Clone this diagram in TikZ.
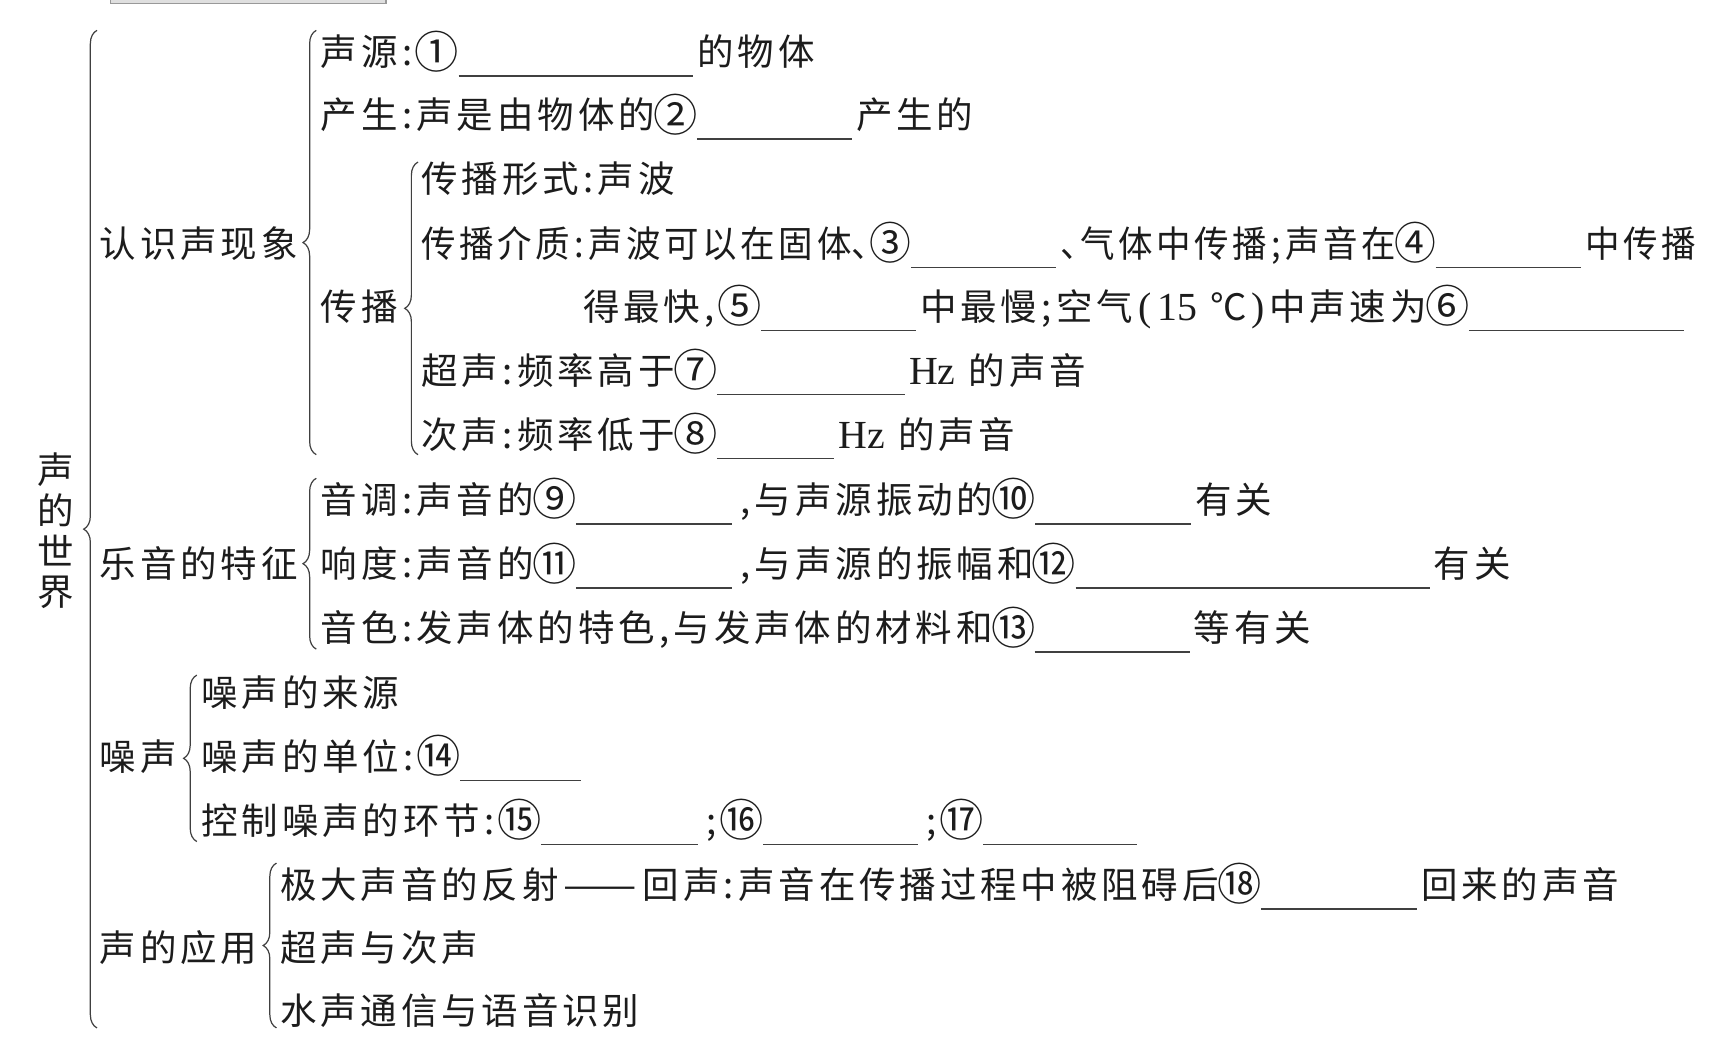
\documentclass[tikz,border=0pt]{standalone}
\usepackage{fontspec}
\usetikzlibrary{calc,decorations.pathreplacing}
\newfontfamily\cjk{Noto Sans CJK SC}[LetterSpace=10.6]
\newfontfamily\latf{Liberation Serif}
\definecolor{ink}{HTML}{1C1C1C}
\definecolor{linec}{HTML}{404040}
\newcommand\lat[1]{{\latf\fontsize{36pt}{37pt}\selectfont #1}}
\newcommand\cn{\makebox[17pt][c]{:}}
\newcommand\sn{\makebox[17pt][c]{;}}
\newcommand\pn{\makebox[17pt][c]{,}}
\newcommand\dn{\makebox[19pt][l]{、}}
\newcommand\pl{\makebox[22pt][c]{\lat{(}}}
\newcommand\pr{\makebox[20pt][c]{\lat{)}}}
\newcommand\cir[1]{\makebox[37pt][c]{\raisebox{-2pt}{\fontsize{40pt}{37pt}\selectfont #1}}}
\newcommand\dsh{\makebox[76pt][c]{\scalebox{1.2}[1]{——}}}
\newcommand\blank[1]{\hspace{1pt}\smash{\textcolor{linec}{\rule[-10pt]{#1pt}{1.5pt}}}\hspace{4pt}}
\tikzset{
  txt/.style={anchor=base west, inner sep=0pt, text=ink,
    font=\cjk\fontsize{33pt}{37pt}\selectfont},
  brc/.style={draw=linec, line width=1.1pt, decorate,
    decoration={brace, amplitude=12pt}},
}
\begin{document}
\begin{tikzpicture}[x=1pt,y=-1pt]
\useasboundingbox[fill=white] (0,0) rectangle (1568,946);
% cut-off header box
\draw[draw=gray!80, fill=gray!25, line width=1.2pt] (100,-6) rectangle (349,3);
% root (vertical)
\node[txt, anchor=center, align=center] (W) at (50,480) {声\\的\\世\\界};
% level 1
\node[txt] (L0) at (90,232.5) {认识声现象};
\node[txt] (L1) at (90,522.5) {乐音的特征};
\node[txt] (L2) at (90,696.5) {噪声};
\node[txt] (L3) at (90,869.5) {声的应用};
\node[txt] (P)  at (290,289.5) {传播};
% rows
\node[txt] (r0) at (290,59.5) {声源\cn\cir{①}\blank{212}的物体};
\node[txt] (r1) at (290,116.5) {产生\cn 声是由物体的\cir{②}\blank{140}产生的};
\node[txt] (r2) at (381,174.5) {传播形式\cn 声波};
\node[txt] (r3) at (381,232.5) {\scalebox{0.945}[1]{传播介质\cn 声波可以在固体\dn\cir{③}\blank{139}\dn 气体中传播\sn 声音在\cir{④}\blank{139}中传播}};
\node[txt] (r4) at (527,289.5) {得最快\pn\cir{⑤}\blank{140}中最慢\sn 空气\pl\lat{15}\hspace{12pt}℃\pr 中声速为\cir{⑥}\blank{195}};
\node[txt] (r5) at (381,347.5) {超声\cn 频率高于\cir{⑦}\blank{170}\lat{Hz}\hspace{12pt}的声音};
\node[txt] (r6) at (381,405.5) {次声\cn 频率低于\cir{⑧}\blank{106}\lat{Hz}\hspace{12pt}的声音};
\node[txt] (r7) at (290,464.5) {音调\cn 声音的\cir{⑨}\blank{141}\pn 与声源振动的\cir{⑩}\blank{141}有关};
\node[txt] (r8) at (290,522.5) {响度\cn 声音的\cir{⑪}\blank{141}\pn 与声源的振幅和\cir{⑫}\blank{320}有关};
\node[txt] (r9) at (290,580.5) {音色\cn 发声体的特色\pn 与发声体的材料和\cir{⑬}\blank{140}等有关};
\node[txt] (r10) at (182,638.5) {噪声的来源};
\node[txt] (r11) at (182,696.5) {噪声的单位\cn\cir{⑭}\blank{109}};
\node[txt] (r12) at (182,754.5) {控制噪声的环节\cn\cir{⑮}\blank{142}\sn\cir{⑯}\blank{140}\sn\cir{⑰}\blank{139}};
\node[txt] (r13) at (253,812.5) {极大声音的反射\dsh 回声\cn 声音在传播过程中被阻碍后\cir{⑱}\blank{141}回来的声音};
\node[txt] (r14) at (253,869.5) {超声与次声};
\node[txt] (r15) at (253,926.5) {水声通信与语音识别};
% braces
\draw[brc] ($(r15.south -| W.east)+(21,0)$) -- ($(r0.north -| W.east)+(21,0)$);
\draw[brc] ($(r6.south -| r0.west)+(-4,0)$) -- ($(r0.north west)+(-4,0)$);
\draw[brc] ($(r6.south -| r2.west)+(-3,0)$) -- ($(r2.north west)+(-3,0)$);
\draw[brc] ($(r9.south -| r7.west)+(-4,0)$) -- ($(r7.north west)+(-4,0)$);
\draw[brc] ($(r12.south -| r10.west)+(-4,0)$) -- ($(r10.north west)+(-4,0)$);
\draw[brc] ($(r15.south -| r13.west)+(-3,0)$) -- ($(r13.north west)+(-3,0)$);
\end{tikzpicture}
\end{document}
